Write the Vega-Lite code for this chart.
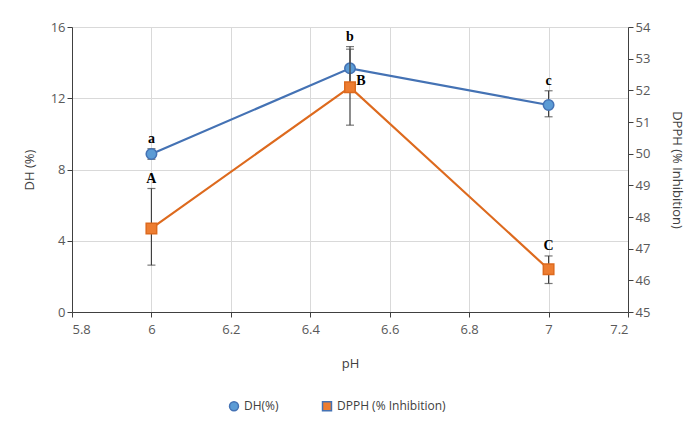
{
  "$schema": "https://vega.github.io/schema/vega-lite/v6.json",
  "width": 556,
  "height": 285,
  "autosize": {"type": "none"},
  "padding": {"left": 72, "top": 27, "right": 58, "bottom": 111},
  "background": "white",
  "config": {
    "view": {"stroke": null},
    "font": "Open Sans",
    "axis": {"labelFont": "Open Sans", "titleFont": "Open Sans", "labelColor": "#595959", "titleColor": "#404040", "labelFontSize": 13, "titleFontSize": 13, "titleFontWeight": "normal", "gridColor": "#d9d9d9", "domainColor": "#404040", "tickColor": "#404040", "labelOverlap": false},
    "legend": {"labelFont": "Open Sans", "labelFontSize": 12, "labelColor": "#404040"}
  },
  "data": {
    "values": [
      {"pH": 6.0, "series": "DH(%)", "value": 8.87, "lo": 8.57, "hi": 9.17, "label": "a"},
      {"pH": 6.5, "series": "DH(%)", "value": 13.68, "lo": 12.5, "hi": 14.9, "label": "b"},
      {"pH": 7.0, "series": "DH(%)", "value": 11.62, "lo": 10.96, "hi": 12.42, "label": "c"},
      {"pH": 6.0, "series": "DPPH (% Inhibition)", "value": 47.64, "lo": 46.48, "hi": 48.9, "label": "A"},
      {"pH": 6.5, "series": "DPPH (% Inhibition)", "value": 52.1, "lo": 50.9, "hi": 53.3, "label": "B"},
      {"pH": 7.0, "series": "DPPH (% Inhibition)", "value": 46.35, "lo": 45.9, "hi": 46.77, "label": "C"}
    ]
  },
  "encoding": {
    "x": {
      "field": "pH", "type": "quantitative",
      "scale": {"domain": [5.8, 7.2], "nice": false, "zero": false},
      "axis": {"title": "pH", "values": [5.8, 6.0, 6.2, 6.4, 6.6, 6.8, 7.0, 7.2], "format": "~g", "labelPadding": 6, "titlePadding": 21, "tickSize": 5}
    }
  },
  "layer": [
    {
      "transform": [{"filter": "datum.series === 'DH(%)'"}],
      "layer": [
        {
          "mark": {"type": "rule", "color": "#404040", "strokeWidth": 1.2},
          "encoding": {
            "y": {"field": "lo", "type": "quantitative", "scale": {"domain": [0, 16], "nice": false}, "axis": {"title": "DH (%)", "values": [0, 4, 8, 12, 16], "tickSize": 5, "titlePadding": 14}},
            "y2": {"field": "hi"}
          }
        },
        {
          "mark": {"type": "tick", "color": "#404040", "orient": "horizontal", "size": 8, "thickness": 1.2},
          "encoding": {"y": {"field": "lo", "type": "quantitative"}}
        },
        {
          "mark": {"type": "tick", "color": "#404040", "orient": "horizontal", "size": 8, "thickness": 1.2},
          "encoding": {"y": {"field": "hi", "type": "quantitative"}}
        },
        {
          "mark": {"type": "line", "strokeWidth": 2.2, "color": "#4472b4"},
          "encoding": {"y": {"field": "value", "type": "quantitative"}}
        },
        {
          "mark": {"type": "point", "filled": true, "size": 110, "strokeWidth": 1.5, "opacity": 1, "stroke": "#4472b4"},
          "encoding": {
            "y": {"field": "value", "type": "quantitative"},
            "color": {"field": "series", "type": "nominal", "scale": {"domain": ["DH(%)", "DPPH (% Inhibition)"], "range": ["#5b9bd5", "#ed7d31"]}, "legend": {"title": null, "orient": "none", "legendX": 156, "legendY": 373, "direction": "horizontal", "symbolSize": 80, "columnPadding": 40, "symbolStrokeWidth": 1.5}},
            "shape": {"field": "series", "type": "nominal", "scale": {"domain": ["DH(%)", "DPPH (% Inhibition)"], "range": ["circle", "square"]}, "legend": {"title": null, "orient": "none", "legendX": 156, "legendY": 373, "direction": "horizontal", "symbolSize": 80, "columnPadding": 40, "symbolStrokeWidth": 1.5}}
          }
        },
        {
          "mark": {"type": "text", "font": "Liberation Serif", "fontWeight": "bold", "fontSize": 14, "color": "#000000", "dy": -10},
          "encoding": {
            "y": {"field": "hi", "type": "quantitative"},
            "text": {"field": "label"}
          }
        }
      ]
    },
    {
      "transform": [{"filter": "datum.series === 'DPPH (% Inhibition)'"}],
      "layer": [
        {
          "mark": {"type": "rule", "color": "#404040", "strokeWidth": 1.2},
          "encoding": {
            "y": {"field": "lo", "type": "quantitative", "scale": {"domain": [45, 54], "nice": false, "zero": false}, "axis": {"orient": "right", "title": "DPPH (% Inhibition)", "values": [45, 46, 47, 48, 49, 50, 51, 52, 53, 54], "tickCount": 10, "labelOverlap": false, "grid": false, "tickSize": 5, "titlePadding": 20}},
            "y2": {"field": "hi"}
          }
        },
        {
          "mark": {"type": "tick", "color": "#404040", "orient": "horizontal", "size": 8, "thickness": 1.2},
          "encoding": {"y": {"field": "lo", "type": "quantitative"}}
        },
        {
          "mark": {"type": "tick", "color": "#404040", "orient": "horizontal", "size": 8, "thickness": 1.2},
          "encoding": {"y": {"field": "hi", "type": "quantitative"}}
        },
        {
          "mark": {"type": "line", "strokeWidth": 2.2, "color": "#dd6a1e"},
          "encoding": {"y": {"field": "value", "type": "quantitative"}}
        },
        {
          "mark": {"type": "point", "filled": true, "size": 110, "strokeWidth": 1.5, "opacity": 1, "stroke": "#dd6a1e"},
          "encoding": {
            "y": {"field": "value", "type": "quantitative"},
            "color": {"field": "series", "type": "nominal"},
            "shape": {"field": "series", "type": "nominal"}
          }
        },
        {
          "transform": [{"filter": "datum.label !== 'B'"}],
          "mark": {"type": "text", "font": "Liberation Serif", "fontWeight": "bold", "fontSize": 14, "color": "#000000", "dy": -10},
          "encoding": {
            "y": {"field": "hi", "type": "quantitative"},
            "text": {"field": "label"}
          }
        },
        {
          "transform": [{"filter": "datum.label === 'B'"}],
          "mark": {"type": "text", "font": "Liberation Serif", "fontWeight": "bold", "fontSize": 14, "color": "#000000", "dx": 11, "dy": -6},
          "encoding": {
            "y": {"field": "value", "type": "quantitative"},
            "text": {"field": "label"}
          }
        }
      ]
    }
  ],
  "resolve": {"scale": {"y": "independent"}}
}
